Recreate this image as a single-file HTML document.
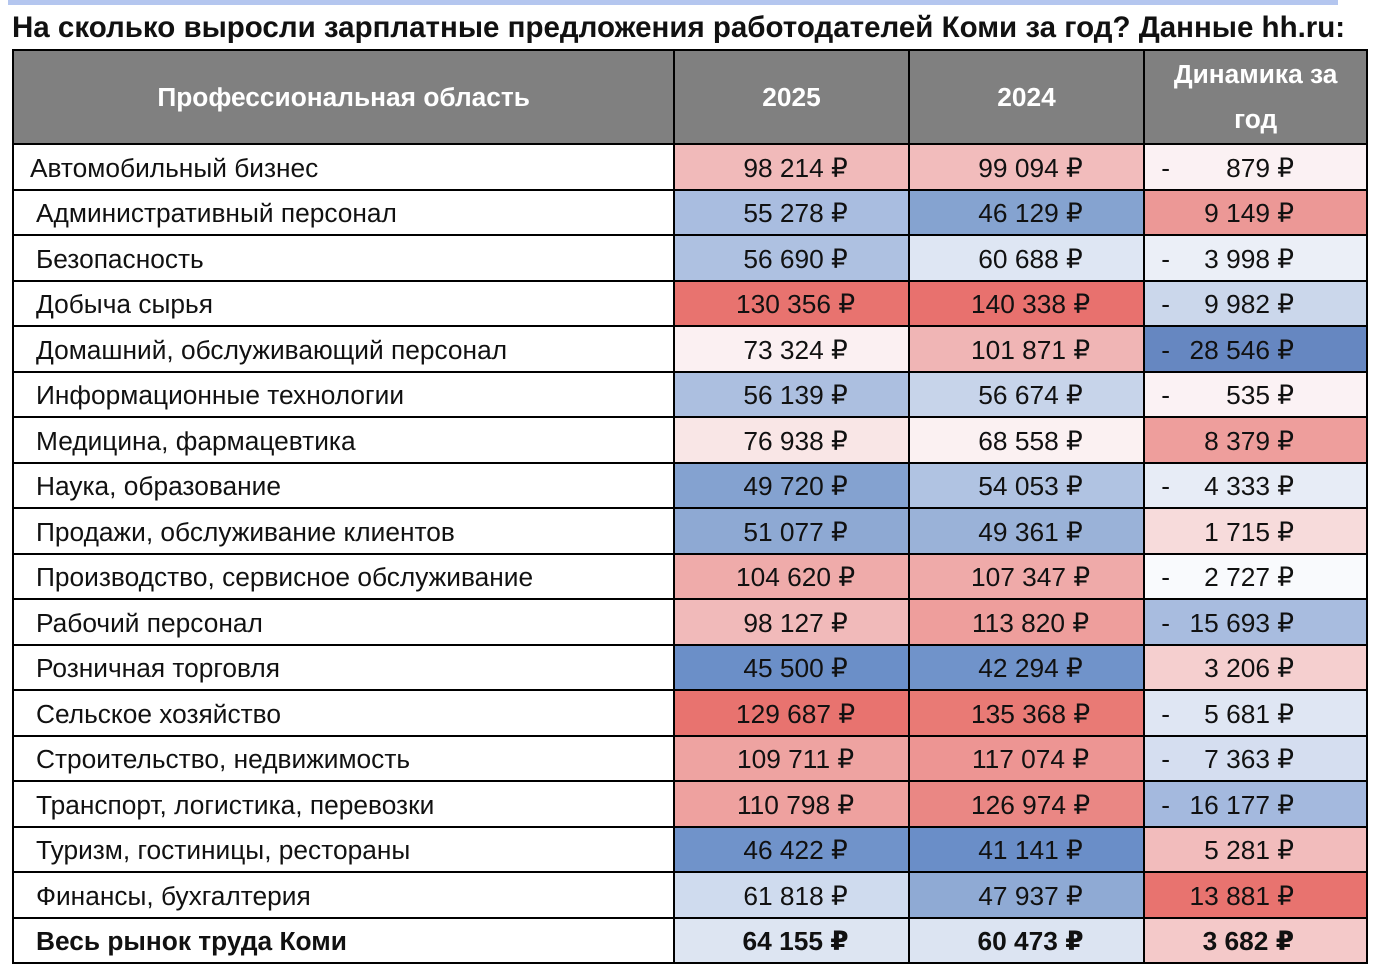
<!DOCTYPE html>
<html><head><meta charset="utf-8">
<style>
body{margin:0;background:#fff;width:1376px;height:972px;overflow:hidden;font-family:"Liberation Sans","DejaVu Sans",sans-serif;}
.bar{position:absolute;left:8px;top:0;width:1330px;height:5px;background:#b4c6ef;}
.title{position:absolute;left:12px;top:11px;font-size:29.5px;font-weight:bold;color:#111;white-space:nowrap;}
table{position:absolute;left:12px;top:49px;border-collapse:collapse;width:1356px;}
td,th{border:2px solid #000;height:43.5px;padding:0;font-size:26.3px;color:#111;white-space:nowrap;}
td{padding-top:3px;height:40.5px;}
th{background:#808080;color:#fff;font-weight:bold;height:92px;line-height:45px;}
td.l{padding-left:22px;}
td.n{text-align:center;padding-left:8px;}
td.d{position:relative;}
td.d .m{position:absolute;left:16px;top:50%;transform:translateY(-45%);}
td.d .v{position:absolute;right:72px;top:50%;transform:translateY(-45%);}
tr.b td{font-weight:bold;}
</style></head><body>
<div class="bar"></div>
<div class="title">На сколько выросли зарплатные предложения работодателей Коми за год? Данные hh.ru:</div>
<table>
<colgroup><col style="width:662px"><col style="width:235px"><col style="width:236px"><col style="width:223px"></colgroup>
<tr><th>Профессиональная область</th><th>2025</th><th>2024</th><th>Динамика за<br>год</th></tr>
<tr><td class="l" style="padding-left:16px">Автомобильный бизнес</td><td class="n" style="background:#f1baba">98 214 ₽</td><td class="n" style="background:#f2bcbc">99 094 ₽</td><td class="d" style="background:#fbf1f3"><span class="m">-</span><span class="v">879 ₽</span></td></tr>
<tr><td class="l">Административный персонал</td><td class="n" style="background:#a9bde0">55 278 ₽</td><td class="n" style="background:#85a3d0">46 129 ₽</td><td class="d" style="background:#ec9896"><span class="v">9 149 ₽</span></td></tr>
<tr><td class="l">Безопасность</td><td class="n" style="background:#aec1e1">56 690 ₽</td><td class="n" style="background:#dee6f3">60 688 ₽</td><td class="d" style="background:#ebeff7"><span class="m">-</span><span class="v">3 998 ₽</span></td></tr>
<tr><td class="l">Добыча сырья</td><td class="n" style="background:#e8736f">130 356 ₽</td><td class="n" style="background:#e8716e">140 338 ₽</td><td class="d" style="background:#cbd7eb"><span class="m">-</span><span class="v">9 982 ₽</span></td></tr>
<tr><td class="l">Домашний, обслуживающий персонал</td><td class="n" style="background:#fbf0f2">73 324 ₽</td><td class="n" style="background:#f0b5b5">101 871 ₽</td><td class="d" style="background:#6687c1"><span class="m">-</span><span class="v">28 546 ₽</span></td></tr>
<tr><td class="l">Информационные технологии</td><td class="n" style="background:#acbfe0">56 139 ₽</td><td class="n" style="background:#c7d4ea">56 674 ₽</td><td class="d" style="background:#fbf2f4"><span class="m">-</span><span class="v">535 ₽</span></td></tr>
<tr><td class="l">Медицина, фармацевтика</td><td class="n" style="background:#f9e6e6">76 938 ₽</td><td class="n" style="background:#fbf1f2">68 558 ₽</td><td class="d" style="background:#ee9e9c"><span class="v">8 379 ₽</span></td></tr>
<tr><td class="l">Наука, образование</td><td class="n" style="background:#84a2d0">49 720 ₽</td><td class="n" style="background:#b0c3e2">54 053 ₽</td><td class="d" style="background:#e7ecf6"><span class="m">-</span><span class="v">4 333 ₽</span></td></tr>
<tr><td class="l">Продажи, обслуживание клиентов</td><td class="n" style="background:#8ea9d3">51 077 ₽</td><td class="n" style="background:#9ab2d8">49 361 ₽</td><td class="d" style="background:#f7dbdb"><span class="v">1 715 ₽</span></td></tr>
<tr><td class="l">Производство, сервисное обслуживание</td><td class="n" style="background:#efabaa">104 620 ₽</td><td class="n" style="background:#efaaa9">107 347 ₽</td><td class="d" style="background:#f9fafd"><span class="m">-</span><span class="v">2 727 ₽</span></td></tr>
<tr><td class="l">Рабочий персонал</td><td class="n" style="background:#f1baba">98 127 ₽</td><td class="n" style="background:#ee9e9c">113 820 ₽</td><td class="d" style="background:#a8bcdf"><span class="m">-</span><span class="v">15 693 ₽</span></td></tr>
<tr><td class="l">Розничная торговля</td><td class="n" style="background:#6b8fc8">45 500 ₽</td><td class="n" style="background:#7093ca">42 294 ₽</td><td class="d" style="background:#f5cfcf"><span class="v">3 206 ₽</span></td></tr>
<tr><td class="l">Сельское хозяйство</td><td class="n" style="background:#e8736f">129 687 ₽</td><td class="n" style="background:#e97a75">135 368 ₽</td><td class="d" style="background:#dfe6f3"><span class="m">-</span><span class="v">5 681 ₽</span></td></tr>
<tr><td class="l">Строительство, недвижимость</td><td class="n" style="background:#eea3a1">109 711 ₽</td><td class="n" style="background:#ed9593">117 074 ₽</td><td class="d" style="background:#d5def0"><span class="m">-</span><span class="v">7 363 ₽</span></td></tr>
<tr><td class="l">Транспорт, логистика, перевозки</td><td class="n" style="background:#eea19f">110 798 ₽</td><td class="n" style="background:#ea8784">126 974 ₽</td><td class="d" style="background:#a4b9de"><span class="m">-</span><span class="v">16 177 ₽</span></td></tr>
<tr><td class="l">Туризм, гостиницы, рестораны</td><td class="n" style="background:#7093ca">46 422 ₽</td><td class="n" style="background:#6a8ec8">41 141 ₽</td><td class="d" style="background:#f2bcbc"><span class="v">5 281 ₽</span></td></tr>
<tr><td class="l">Финансы, бухгалтерия</td><td class="n" style="background:#cfdbee">61 818 ₽</td><td class="n" style="background:#8faad4">47 937 ₽</td><td class="d" style="background:#e8736f"><span class="v">13 881 ₽</span></td></tr>
<tr class="b"><td class="l">Весь рынок труда Коми</td><td class="n" style="background:#dde5f2">64 155 ₽</td><td class="n" style="background:#dce4f2">60 473 ₽</td><td class="d" style="background:#f4c9c9"><span class="v">3 682 ₽</span></td></tr>
</table>
</body></html>
